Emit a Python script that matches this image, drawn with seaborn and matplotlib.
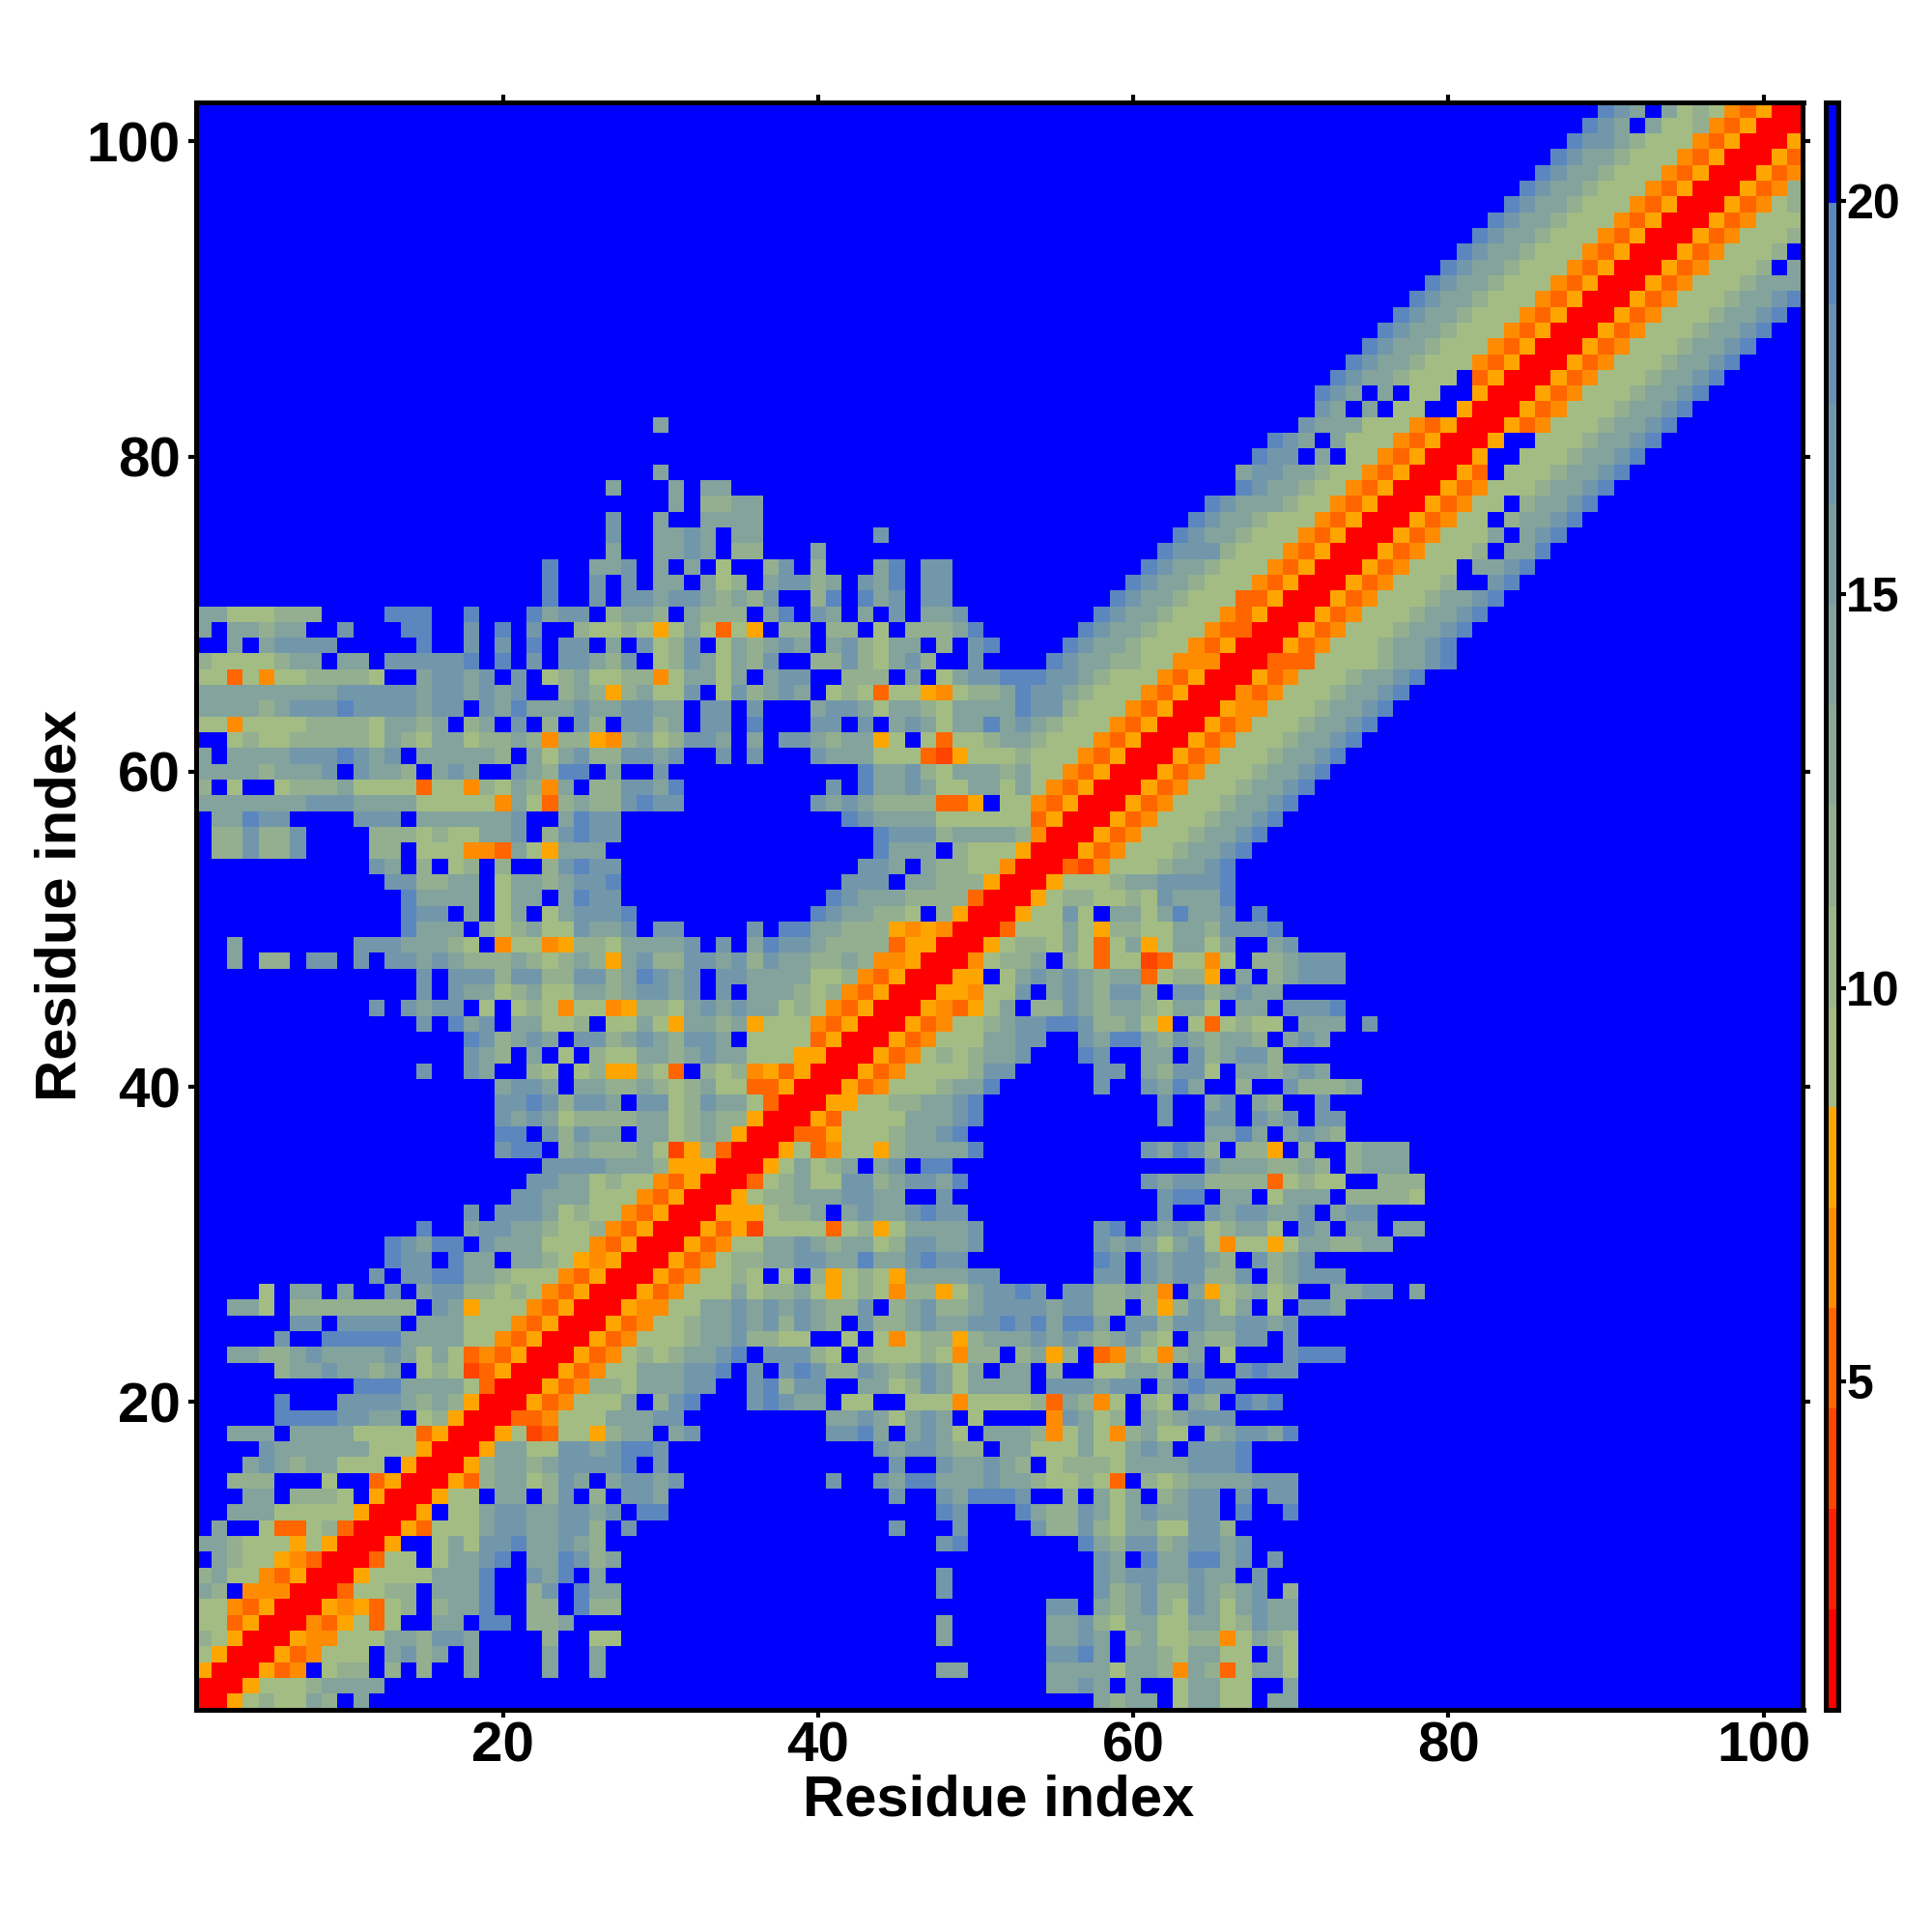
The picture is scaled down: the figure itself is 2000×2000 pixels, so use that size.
import numpy as np
import pandas as pd
import matplotlib
matplotlib.use('Agg')
import matplotlib.pyplot as plt
from matplotlib.colors import ListedColormap
import seaborn as sns

# contact map, one entry per residue row from 102 down to 1
# "col:codes" = codes start at that residue column, anything not listed is blue
map_rows = [
    "90:sut.tghgaoyrr",
    "89:sut.tgghaoyrrr",
    "88:suuthgggaoyrrry",
    "87:sutthgggaoyrrryo",
    "86:sutthgggaoyrrryoa",
    "85:sutthgggaoyrrryoah",
    "84:sutthgggaoyrrryoagh",
    "83:sutthgggaoyrrryoaggg",
    "82:sutthgggaoyrrryoagggh",
    "81:sutthgggaoyrrryoagggh.",
    "80:sutthgggaoyrrryoagggh.t",
    "79:sutthgggaoyrrryoaggghttt",
    "78:sutthgggaoyrrryoaggghttus",
    "77:sutthgggaoyrrryoaggghttus",
    "76:sutthgggaoyrrryoaggghttus",
    "75:sutthgggaoyrrryoaggghttus",
    "74:sutthgggaoyrrryoaggghttus",
    "73:sutthggg.oyrrryoaggghttus",
    "72:sut.t.gg..yrrryoaggghttus",
    "72:ut.t.gg..yrrryoaggghttus",
    "30:t 71:utttgggaoyrrryoaggghttus",
    "69:sut.tgggaoyrrry..ggghttus",
    "68:suu.t.ggaoyrrry..ggghttus",
    "30:t 67:tuutthggaoyrrryo.ggghttus",
    "27:t 31:t 33:tt 67:sutthggaoyrrryoaggghttus",
    "31:t 33:hhtt 65:suttthggaoyrrryoagg.httus",
    "27:u 30:t 33:tttt 64:sutthgggaoyrrryoagg.httus",
    "27:u 30:ttut.tt 44:u 63:sutthgggaoyrrryoagggt.tus",
    "27:t 30:ttut.hh 40:t 62:suuuhgggaoyrrryoagggh.tts",
    "23:s 26:ttu.t.t.g..hu.h 44:ts 47:uu 61:sutthgggaoyrrryoaggg.ttus",
    "23:s 26:u.u.tt.tgh.tuuht.uts.uu 60:sutthgggaoyrrryoagggh..us",
    "23:s 26:u.uutuuththu..hs.stu.uu 59:sutthgggooyrrryoaggghttus",
    "1:ttggghhh 13:sss 18:s 22:stuu.htth.thhh.ts.ut.t.u.ttu 58:sutthgggaoyrrryoaggghttus",
    "1:t.tthtt..u...ss..u.s.u..hgghgygtgogy.hh.hh.g.hhhts 57:sutthgggaoorrryoaggghttus",
    "3:t.tuuuu 15:s 18:u.u.s.uu.t.ughu.gthtut.tuhgtt.h.us 56:sutthgggaoyrrryoaggghttus",
    "1:hgggghtt.tt.uuuuus.s.u.uuthu.ghutgthu..hhuhgtuh..u 55:sutthhggaaarrrooogggghttus",
    "1:ggogagghhhhg..tuutu.u.ghtgghhagttgt.tuu..hhh.t.gtuusssuuthgggaoyrrryoaggghttus",
    "1:tttttttttuuuuutuututu..hthyhtggu.guhtut.ghgoggyaghhtsuuthgggaoyrrraoaggghttus",
    "1:tttthtuuusuuuutuu.utstttuttuutt.uu.u...tuutgtthgttttsuuhgggaoyrrryaaggghttus",
    "1:ggagggghhhhgttht.ht.u.h.uh.uuht.uu.s...uu.u.tutgttstuthgggaoyrrryoaggghttus",
    "3:ghgghhhhhgthgttghhthahhyahtghuut.t.uuthttyg.gogghtthgggaoyrrryoaggghttus",
    "1:t.ttttuuusutu.ttttth.tgtuhhuutu..u.u...utttgggo2ygg" "ghgggaoyrrryoaggghttus",
    "1:tttthtttu.utth.tut..uthss.t..u 43:sttuhgttthtggaoyrrryoaggghttus",
    "1:h.g..ghhhtggggoggahgthat.hhuuts 41:u.sttutggttgtgaoyrrryoaggghttus",
    "1:tttttttuuuttttgggggatgohthhusuu 40:ututhhhhooy.ggaoyrrryoaggghttus",
    "2:ttsuu 11:uuu 15:ttttttu..tsuu 42:suttttggggggoyrrryoaggghttus",
    "2:hhuhhu 12:hhhghggttu.husuu 44:suuuhttttharrryoaggghttus",
    "2:hhuhhu 12:hh.gggaaotgyttt 44:sttt.hgggyrrryoaggghttus",
    "12:ut.h.gh.h..husuu 43:uut.thhggarrro2aggghttus",
    "13:uuhhtt.gtthtuus 42:uuu.tthhhyrrryggghttuuuus",
    "14:stttt.gtt.tsuu 41:suttthhhhorrryghhgghguttts",
    "14:suu.t.gt.gtuuus 40:sutthhg.hyrrryggug.ttgtsttu.s",
    "14:sttt.hghtgguttu.uu....u.ssttHHHyayarrrogggtgyhhggtthuuus".lower(),
    "3:t 11:uuuttthg.aggayhhgttttu.u.tsuuthhhhoyyrrryghhgtgogtygttgt..tu",
    "3:t 5:hh 8:uu 11:u.uututhhhthghthytuhhuutuhutthhthaayrrraghht.hgogg2oggag.hhtuuu",
    "15:u.uuuhuuhhuuhtsutu.uuttttgghaoyrrryy.gtututhttoghhy.t.htuuu",
    "15:u.uttghtggtthtuutu.u.ttthghaoyrrryyaggu.tuthuuh.uuhtutt",
    "12:u.utuu.g.ghgaggayhhgtututtghgaoyrrryaoygt.hhuthtthgttg.tt.uuus",
    "15:u.stu.ttggh.ggtgytthtygggaoyrrryoagghtuussuhhtgy.goghgg.ttt.u",
    "18:suhtut.uuhtuthuut.ggggoyrrryoagggttuu..utssthuthtth.tut",
    "18:uth.t.g.hggtthtuttgggyyrrryoaghghttu...su..tt.uhtuuh",
    "15:u 18:ut..hg.ghyyhgo.hghayoyrrryoagggghuu 58:uu.thuug.tthtut",
    "20:tuut.tthhthghtggooyrrryoaggghtts 58:u 61:utst..h..uhhht",
    "20:uusuhuut.uughuttgorrryygghhttus 62:u 65:tu.th..u",
    "20:ututghhhhttghthhyrrryoggggtttus 62:u 65:uu.utu.uu",
    "20:ss.uhutt.ttghthyrrrooyggghttus 65:ttst.tuth",
    "20:uss.hthhhtg2yhorrrygoaggyhtttts 61:utsuh.hhy.h..httt",
    "23:uuuuttthyyyrrrygtght.tu.ss 65:uttthhth.httt",
    "22:uuttghggaoyrrroghtgguuhtuuts 61:utuuhhhhoghgg..hhh",
    "21:uutttgggaoyrrryghhtttuutt..u 62:uss.tt.gttt.hhhhg",
    "18:u.uuutghggaoyrrryyyghht.tuttusuu 62:u..utuuttu.tuu",
    "15:s 18:tuutthgghaoyrrryoy2ggggoghygttttu 58:us.ututghttg.ut.tt.tt",
    "13:sutss.utttgggaoyrrryoaggttuthttghuuttu 58:ututgtugaggygtthhtt",
    "13:suu.stt.tthgyayrrryoaghhttuuttsttusuu 58:su.utuuth.uhtu",
    "12:u.uusstthgggaoyrrryoagghg.g.hyghgyttttuu 58:uu.utuuhhu.htuuu",
    "5:g.tt.t..u.tuuhhghgaoyrrryoagggtghhtgyghgahhygtuusu.uuhhtha.tyghtgh..ttuu.t",
    "3:ttg.hhhhhhhh.utygggaoyrrryaaggttutututhhu.htuhhtuuuutuuhh.hyhutgt.g.uut",
    "7:uu.uuuu.tttgggaoyrrryoagghttutuhuth.uhhtuttuusustsst.uuhuuttuutu",
    "6:u..sssssttttggaoyrrryoaggghttuhhgg..g.gaghhyhtttututhtuhg.thhuu.u",
    "3:tthhtuttttutgtgoaoyrrryoaghghttus.uuuhg.hggghgahh.htyh.oahgaht.g...usss",
    "6:httuttht.ghg2oyrrryoaggtttuus.u.usuhhuthtutgt.tt.h..ggtth.u..usuu",
    "11:sssttttgorrryoahhgtttuu..ushuu..ttghutgtttt.uuutuu.tusuu",
    "6:s...uuuuththyrrryoagggt.hus...usutt.gg..gggagggghothag.hg.th.sus",
    "6:ssssuutt.ghyrrrooagggtttuu 41:ttutgtut.g 55:autgh.thtuuu",
    "3:ttt.ttttggggoyrrryg2oggyhtt.tu 41:uust.tutg.ttthagtgahtgg.htuuts",
    "5:uttttttgggyrrryttgguutussu 44:utuuthh.ttgggtggtut.uuus",
    "4:tuthttggg.yrrryhtthtuuuus.u 45:u..uttuth.ghhhgttttuuus",
    "3:hhh...g..oyrrryohttghut.tuutu 41:u 44:utsstttutthgghgo.hghttttuuu",
    "4:tt.hhhg.yrrrygg.tt.hu.h.uut 45:u 48:utsssu..h.tgt.htuu.u.uu",
    "3:tttgggggyrrry.ggtuuttuutu.ss 48:su 53:sthhutgtuttuu.s..s",
    "2:t..googhorrryogggtuuttuuh.u 45:u 49:u 54:uhhuhgttgguuh",
    "1:tthgggygyrrry..gtguusttuth 48:us 57:sthuuhtuutu",
    "2:thggyaorrrogg.gttus.ttsuht 58:ut.sttsstu.u",
    "1:htggaoyrrryggggttts..uts.t 48:u 58:utuuttutt.u",
    "1:th.aaarrrogghh.ttts..hu.stt 48:u 58:uhtuhhuthtu.h",
    "1:ggaoyrrryayogh.htts..hh.shh 55:uu.thtuhgutgtutt",
    "1:ggoyrrraoygog..tt.ss.hht 48:t 55:ttuhgttggttghutt",
    "1:hgyrrryaagggtthuut....h..gg 48:t 55:ttut.htgghhagthg",
    "1:gyrrryoaggg.tuht.t....t..t 55:uust.tthgttgg.tg",
    "1:yrrryoa.ghh.h.h..t....t..t 48:tt 55:ttttgtthathogttg",
    "1:rrryggghtttt 55:ttut.t..gttgg..t",
    "1:rryghggth.t 58:thtt.gttgg.tt",
]

residues = list(range(1, 103))
tick_values = [20, 40, 60, 80, 100]
cbar_ticks = [5, 10, 15, 20]

# the 16 bands of the scale, low to high
band_colors = ['#FF0000', '#FF2000', '#FF4400', '#FF6600', '#FF8C00', '#FFA500',
               '#A3BC84', '#9BB78A', '#93AF90', '#8BA996', '#83A39C', '#7B9DA2',
               '#7397AA', '#6B91B2', '#5B87BE', '#0000FF']
scale_min = 0.83
scale_max = 21.26

# letter used in map_rows -> value in the middle of its band
code_values = {'r': 1.47, '2': 4.02, 'o': 5.30, 'a': 6.58, 'y': 7.85,
               'g': 9.13, 'h': 11.68, 't': 14.24, 'u': 16.79, 's': 19.34, '.': 20.62}

matrix = np.full((102, 102), code_values['.'])
for i, row in enumerate(map_rows):
    for seg in row.split():
        start, codes = seg.split(':')
        for j, c in enumerate(codes):
            matrix[i, int(start) - 1 + j] = code_values[c]

df = pd.DataFrame(matrix, index=residues[::-1], columns=residues)

sns.set_style('white')
plt.rcParams['font.family'] = ['Liberation Sans', 'DejaVu Sans']
plt.rcParams['font.weight'] = 'bold'
plt.rcParams['text.color'] = 'black'

fig = plt.figure(figsize=(10, 10), dpi=200)
ax = fig.add_axes([202.5 / 2000, 1 - 1769.5 / 2000, 1664 / 2000, 1664 / 2000])
cax = fig.add_axes([1890 / 2000, 1 - 1769.5 / 2000, 13 / 2000, 1664 / 2000])

sns.heatmap(df, ax=ax, cbar_ax=cax, cmap=ListedColormap(band_colors), vmin=scale_min, vmax=scale_max,
            xticklabels=False, yticklabels=False, cbar_kws={'ticks': cbar_ticks})

ax.set_xticks([v - 0.5 for v in tick_values])
ax.set_xticklabels(tick_values, rotation=0)
ax.set_yticks([102 - v + 0.5 for v in tick_values])
ax.set_yticklabels(tick_values, rotation=0)
ax.tick_params(axis='both', which='major', labelsize=21, length=3, width=1.5, direction='out', color='black',
               labelcolor='black', top=True, right=True, bottom=True, left=True)
ax.tick_params(axis='x', pad=1.5)
ax.tick_params(axis='y', pad=2.6)

for side in ax.spines.values():
    side.set_visible(True)
    side.set_linewidth(1.8)
    side.set_color('black')

cax.tick_params(axis='y', labelsize=18, length=3, width=1.5, right=True, left=False, color='black',
                labelcolor='black', pad=0)
cbar = ax.collections[0].colorbar
cbar.outline.set_visible(True)
cbar.outline.set_linewidth(1.8)
cbar.outline.set_edgecolor('black')

fig.text(1034 / 2000, 1 - 1864 / 2000, 'Residue index', fontsize=21.5, fontweight='bold', color='black',
         ha='center', va='center')
fig.text(63 / 2000, 1 - 937 / 2000, 'Residue index', fontsize=21.5, fontweight='bold', color='black',
         ha='center', va='center', rotation=90)

fig.savefig('out.png', dpi=200)
